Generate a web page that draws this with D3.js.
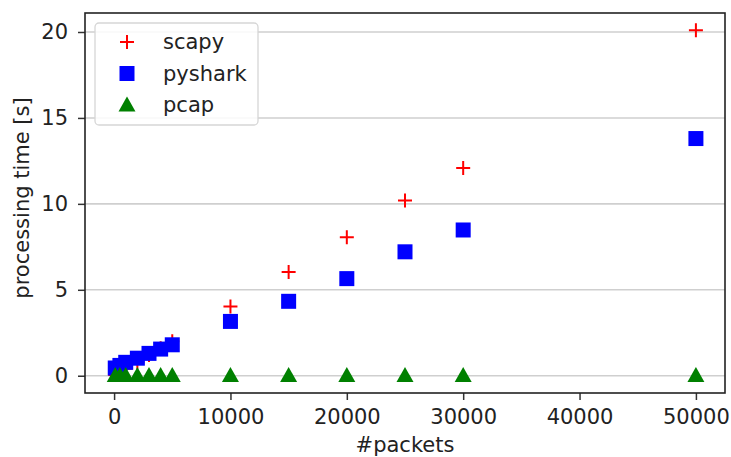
<!DOCTYPE html>
<html>
<head>
<meta charset="utf-8">
<script src="https://cdn.jsdelivr.net/npm/d3@7"></script>
<style>
  body { margin: 0; background: #fff; }
  svg text { font-family: "DejaVu Sans", sans-serif; fill: #222; }
</style>
</head>
<body>
<svg id="chart" width="731" height="457"></svg>
<script>
// packet counts on the x axis
const packets = [100, 500, 1000, 2000, 3000, 4000, 5000, 10000, 15000, 20000, 25000, 30000, 50000];
// processing times in seconds
const scapyTimes   = [0.04, 0.2, 0.4, 0.8, 1.2, 1.6, 2.0, 4.03, 6.04, 8.05, 10.19, 12.09, 20.1];
const pysharkTimes = [0.45, 0.6, 0.78, 1.02, 1.3, 1.55, 1.8, 3.16, 4.33, 5.65, 7.21, 8.48, 13.8];
const pcapTimes    = [0.02, 0.02, 0.02, 0.02, 0.02, 0.02, 0.02, 0.02, 0.02, 0.02, 0.02, 0.02, 0.02];

const xTicks = [0, 10000, 20000, 30000, 40000, 50000];
const yTicks = [0, 5, 10, 15, 20];

const seriesNames = ["scapy", "pyshark", "pcap"];

const svg = d3.select("#chart");
const margin = { left: 85, right: 6, top: 13, bottom: 64 };
const W = 731, H = 457;
const fontSize = "21px";

const x = d3.scaleLinear().domain([-2500, 52500]).range([margin.left, W - margin.right]);
const y = d3.scaleLinear().domain([-1.005, 21.105]).range([H - margin.bottom, margin.top]);

// horizontal grid
svg.append("g")
    .selectAll("line")
    .data(yTicks)
    .enter().append("line")
    .attr("x1", x.range()[0]).attr("x2", x.range()[1])
    .attr("y1", d => y(d)).attr("y2", d => y(d))
    .attr("stroke", "#cfcfcf")
    .attr("stroke-width", 1.6);

// axes
const xAxis = svg.append("g")
    .attr("transform", `translate(0, ${y.range()[0]})`)
    .call(d3.axisBottom(x).tickValues(xTicks).tickFormat(d3.format("d")).tickSize(7).tickPadding(9));
const yAxis = svg.append("g")
    .attr("transform", `translate(${x.range()[0]}, 0)`)
    .call(d3.axisLeft(y).tickValues(yTicks).tickFormat(d3.format("d")).tickSize(7).tickPadding(10));

[xAxis, yAxis].forEach(a => {
    a.select(".domain").remove();
    a.selectAll(".tick line").attr("stroke", "#333").attr("stroke-width", 1.5);
    a.selectAll("text").style("font-size", fontSize).attr("fill", "#222");
});

// frame
svg.append("rect")
    .attr("x", x.range()[0]).attr("y", y.range()[1])
    .attr("width", x.range()[1] - x.range()[0])
    .attr("height", y.range()[0] - y.range()[1])
    .attr("fill", "none")
    .attr("stroke", "#222")
    .attr("stroke-width", 1.6);

// axis titles
svg.append("text")
    .attr("x", (x.range()[0] + x.range()[1]) / 2)
    .attr("y", 452)
    .attr("text-anchor", "middle")
    .style("font-size", fontSize)
    .text("#packets");

svg.append("text")
    .attr("transform", "rotate(-90)")
    .attr("x", -198)
    .attr("y", 29)
    .attr("text-anchor", "middle")
    .style("font-size", fontSize)
    .text("processing time [s]");

// marker drawers
const drawPlus = (sel, cx, cy) => sel.append("path")
    .attr("d", `M${cx - 7},${cy}H${cx + 7}M${cx},${cy - 7}V${cy + 7}`)
    .attr("stroke", "#ff0000").attr("stroke-width", 2).attr("fill", "none");
const drawSquare = (sel, cx, cy) => sel.append("rect")
    .attr("x", cx - 7.5).attr("y", cy - 7.5).attr("width", 15).attr("height", 15)
    .attr("fill", "#0000ff");
const drawTriangle = (sel, cx, cy) => sel.append("path")
    .attr("d", `M${cx},${cy - 8.5}L${cx + 8.5},${cy + 6.5}L${cx - 8.5},${cy + 6.5}Z`)
    .attr("fill", "#008000");

// same drawing order as the original: scapy, then pyshark on top, then pcap
const marks = svg.append("g");
packets.forEach((p, i) => drawPlus(marks, x(p), y(scapyTimes[i])));
packets.forEach((p, i) => drawSquare(marks, x(p), y(pysharkTimes[i])));
packets.forEach((p, i) => drawTriangle(marks, x(p), y(pcapTimes[i])));

// legend
const leg = svg.append("g");
leg.append("rect")
    .attr("x", 95).attr("y", 23).attr("width", 163).attr("height", 102)
    .attr("rx", 4)
    .attr("fill", "#fff").attr("fill-opacity", 0.85)
    .attr("stroke", "#d6d6d6").attr("stroke-width", 1.3);
const legDrawers = [drawPlus, drawSquare, drawTriangle];
seriesNames.forEach((name, i) => {
    const cy = 42 + i * 31.5;
    legDrawers[i](leg, 127, cy);
    leg.append("text")
        .attr("x", 163).attr("y", cy)
        .attr("dy", "0.35em")
        .style("font-size", fontSize)
        .text(name);
});
</script>
</body>
</html>
